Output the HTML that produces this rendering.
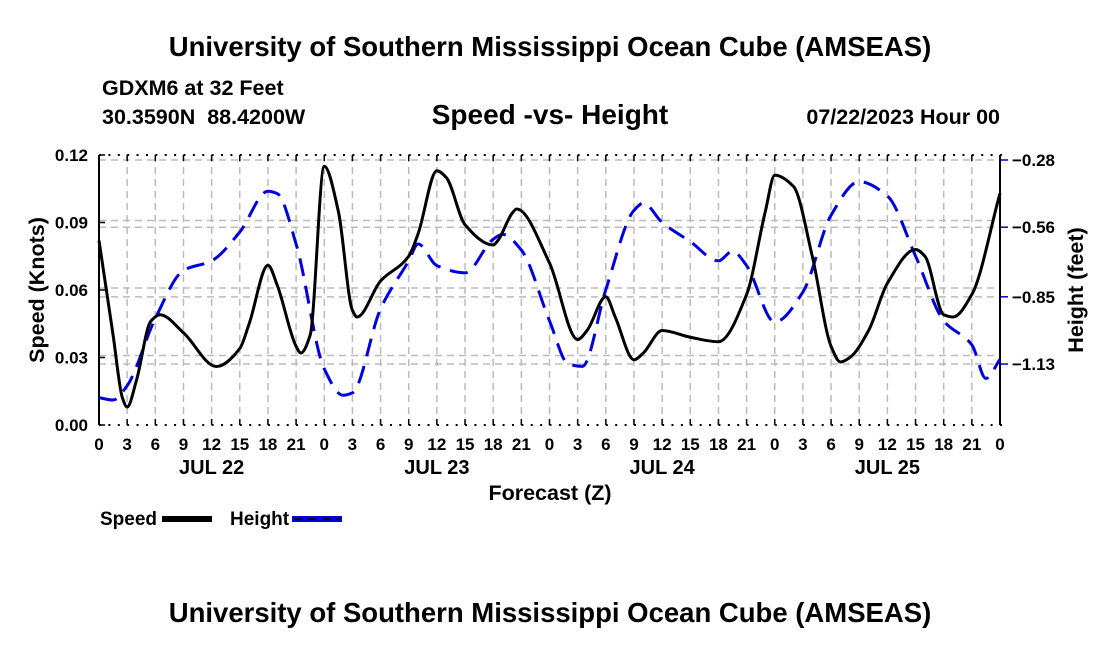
<!DOCTYPE html>
<html><head><meta charset="utf-8"><style>
body{margin:0;background:#fff;width:1100px;height:650px;overflow:hidden}
svg text{font-family:"Liberation Sans",sans-serif;font-weight:bold;fill:#000}
</style></head><body>
<svg id="c" width="1100" height="650">
<text x="550" y="56" font-size="27.5" text-anchor="middle">University of Southern Mississippi Ocean Cube (AMSEAS)</text>
<text x="102" y="95" font-size="21.5">GDXM6 at 32 Feet</text>
<text x="102" y="124" font-size="21.5" xml:space="preserve">30.3590N  88.4200W</text>
<text x="550" y="124" font-size="28" text-anchor="middle">Speed -vs- Height</text>
<text x="1000" y="124" font-size="21.5" text-anchor="end">07/22/2023 Hour 00</text>
<text x="550" y="500" font-size="21.5" text-anchor="middle">Forecast (Z)</text>
<text transform="translate(44,290) rotate(-90)" font-size="21.5" text-anchor="middle">Speed (Knots)</text>
<text transform="translate(1083,290) rotate(-90)" font-size="21.5" text-anchor="middle">Height (feet)</text>
<g>
<text x="100" y="525" font-size="19">Speed</text>
<rect x="162" y="516" width="50" height="6" fill="#000"/>
<text x="230" y="525" font-size="19">Height</text>
<rect x="292" y="516" width="50" height="6" fill="#0000dd"/>
<line x1="294" y1="519" x2="340" y2="519" stroke="#000" stroke-width="1.5" stroke-dasharray="8,6"/>
</g>
<text x="550" y="622" font-size="27.5" text-anchor="middle">University of Southern Mississippi Ocean Cube (AMSEAS)</text>
<g id="grid"></g><g id="axes"></g><g id="series"></g>
</svg>
<script>
const speedHours=[0,1.5,2.5,3,4,5.5,6.5,9,12.5,15,16,18,19,21,21.5,22.5,24,25.5,27,27.5,30,33,34,36,37,39,42,42.5,44,44.5,48,51,52,54,55,57,58,60,63,66,69,71,72,74,76,78,79,80,82,84,87,88,90,91,93,96];
const speedValues=[.082,.04,.012,.008,.02,.046,.049,.041,.026,.034,.045,.071,.062,.035,.032,.04,.115,.095,.051,.048,.064,.075,.085,.113,.11,.089,.080,.082,.094,.096,.072,.038,.042,.057,.048,.029,.032,.042,.039,.037,.058,.095,.111,.106,.075,.035,.028,.03,.042,.063,.078,.075,.049,.048,.058,.103];
const heightHours=[0,1.5,3,6,9,12,15,18,19,21,24,26,27,30,33,34,36,39,42,43,45,48,50,51.5,54,57,58,60,63,66,67.5,69,72,75,78,81,84,87,90,93,94.5,96];
const heightValues=[-1.27,-1.28,-1.22,-0.94,-0.74,-0.70,-0.58,-0.41,-0.42,-0.63,-1.15,-1.26,-1.25,-0.90,-0.70,-0.63,-0.72,-0.75,-0.61,-0.59,-0.655,-0.95,-1.13,-1.14,-0.82,-0.49,-0.46,-0.54,-0.62,-0.70,-0.66,-0.72,-0.955,-0.83,-0.51,-0.37,-0.43,-0.68,-0.95,-1.05,-1.19,-1.11];
const speedTicks=[0,0.03,0.06,0.09,0.12];
const heightTicks=[-0.28,-0.56,-0.85,-1.13];
const dayLabels=["JUL 22","JUL 23","JUL 24","JUL 25"];
const NS="http://www.w3.org/2000/svg";
const X0=99,X1=1000,YT=155,YB=425;
const xs=h=>X0+(X1-X0)*h/96;
const ys=v=>YB-(YB-YT)*v/0.12;
const yh=v=>160+(-0.28-v)/0.2833*68;
function el(t,a,p){const e=document.createElementNS(NS,t);for(const k in a)e.setAttribute(k,a[k]);p.appendChild(e);return e;}
const grid=document.getElementById('grid'),axes=document.getElementById('axes'),ser=document.getElementById('series');
for(let i=0;i<=32;i++){const x=xs(i*3);
 const g=el('line',{x1:x,x2:x,y1:YT,y2:YB,stroke:'#bbb','stroke-width':1.5,'stroke-dasharray':'7,5'},grid);
 
 
 el('line',{x1:x,x2:x,y1:YB,y2:YB-6,stroke:'#000','stroke-width':1.5},axes);
 el('line',{x1:x,x2:x,y1:YT,y2:YT+6,stroke:'#000','stroke-width':1.5},axes);
 const t=el('text',{x:x,y:450,'font-size':17,'text-anchor':'middle'},axes);t.textContent=String((i*3)%24);
 
 
}
dayLabels.forEach((d,i)=>{const t=el('text',{x:xs(i*24+12),y:474,'font-size':20,'text-anchor':'middle'},axes);t.textContent=d;
 
 });
speedTicks.forEach(v=>{const y=ys(v);
 el('line',{x1:X0,x2:X0+6,y1:y,y2:y,stroke:'#000','stroke-width':1.5},axes);
 const t=el('text',{x:88,y:y+6,'font-size':17,'text-anchor':'end'},axes);t.textContent=v.toFixed(2);
 
 
 if(v>0&&v<0.12){const g=el('line',{x1:X0,x2:X1,y1:y-2,y2:y-2,stroke:'#bbb','stroke-width':1.5,'stroke-dasharray':'7,5'},grid);
 
 }
});
heightTicks.forEach(v=>{const y=yh(v);
 el('line',{x1:X1,x2:X1+8,y1:y,y2:y,stroke:'#0000cc','stroke-width':1.5},axes);
 el('line',{x1:X0,x2:X1,y1:y,y2:y,stroke:'#bbb','stroke-width':1.5,'stroke-dasharray':'7,5'},grid);
 const t=el('text',{x:1012,y:y+6,'font-size':17},axes);t.textContent=v.toFixed(2).replace('-','\u2212');
 
 
});
for(let i=0;i<=96;i++){const x=X0+(X1-X0)*i/96;
 el('line',{x1:x,x2:x+2,y1:YT,y2:YT,stroke:'#000','stroke-width':2},axes);
 el('line',{x1:x,x2:x+2,y1:YB,y2:YB,stroke:'#000','stroke-width':2},axes);}
el('line',{x1:X0,x2:X0,y1:YT,y2:YB,stroke:'#000','stroke-width':2},axes);
el('line',{x1:X1,x2:X1,y1:YT,y2:YB,stroke:'#000','stroke-width':2},axes);
function path(hs,vs,fy){
 const p=hs.map((h,i)=>[xs(h),fy(vs[i])]),n=p.length;
 const dl=[],m=[];
 for(let i=0;i<n-1;i++)dl.push((p[i+1][1]-p[i][1])/(p[i+1][0]-p[i][0]));
 for(let i=0;i<n;i++){
  if(i===0)m.push(dl[0]);else if(i===n-1)m.push(dl[n-2]);
  else if(dl[i-1]*dl[i]<=0)m.push(0);
  else{const w1=2*(p[i+1][0]-p[i][0])+(p[i][0]-p[i-1][0]),w2=(p[i+1][0]-p[i][0])+2*(p[i][0]-p[i-1][0]);m.push((w1+w2)/(w1/dl[i-1]+w2/dl[i]));}
 }
 let d='M'+p[0][0]+','+p[0][1];
 for(let i=0;i<n-1;i++){const h=(p[i+1][0]-p[i][0])/3;
  d+=' C'+(p[i][0]+h)+','+(p[i][1]+m[i]*h)+' '+(p[i+1][0]-h)+','+(p[i+1][1]-m[i+1]*h)+' '+p[i+1][0]+','+p[i+1][1];}
 return d;}
const hp=el('path',{d:path(heightHours,heightValues,yh),fill:'none',stroke:'#0000dd','stroke-width':3,'stroke-dasharray':'18,10'},ser);


const sp=el('path',{d:path(speedHours,speedValues,ys),fill:'none',stroke:'#000','stroke-width':3},ser);


</script>
</body></html>
